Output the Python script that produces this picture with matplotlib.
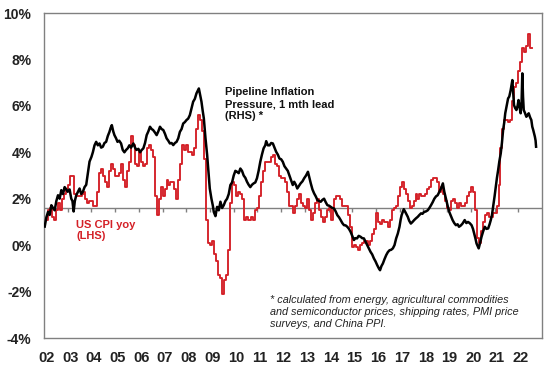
import matplotlib
matplotlib.use("Agg")
import matplotlib.pyplot as plt
import numpy as np

plt.rcParams['font.family'] = ['Liberation Sans', 'DejaVu Sans']

# US CPI yoy, monthly, Jan 2002 - Jul 2022 (LHS)
cpi_start = 2002
cpi_yoy = [
    1.1, 1.1, 1.5, 1.6, 1.2, 1.1, 1.5, 1.8, 1.5, 2.0, 2.2, 2.4,
    2.6, 3.0, 3.0, 2.2, 2.1, 2.1, 2.1, 2.2, 2.3, 2.0, 1.8, 1.9,
    1.9, 1.7, 1.7, 2.3, 3.1, 3.3, 3.0, 2.7, 2.5, 3.2, 3.5, 3.3,
    3.0, 3.0, 3.1, 3.5, 2.8, 2.5, 3.2, 3.6, 4.7, 4.3, 3.5, 3.4,
    4.0, 3.6, 3.4, 3.5, 4.2, 4.3, 4.1, 3.8, 2.1, 1.3, 2.0, 2.5,
    2.1, 2.4, 2.8, 2.6, 2.7, 2.7, 2.4, 2.0, 2.8, 3.5, 4.3, 4.1,
    4.3, 4.0, 4.0, 3.9, 4.2, 5.0, 5.6, 5.4, 4.9, 3.7, 1.1, 0.1,
    0.0, 0.2, -0.4, -0.7, -1.3, -1.4, -2.1, -1.5, -1.3, -0.2, 1.8, 2.7,
    2.6, 2.1, 2.3, 2.2, 2.0, 1.1, 1.2, 1.1, 1.1, 1.2, 1.1, 1.5,
    1.6, 2.1, 2.7, 3.2, 3.6, 3.6, 3.6, 3.8, 3.9, 3.5, 3.4, 3.0,
    2.9, 2.9, 2.7, 2.3, 1.7, 1.7, 1.4, 1.7, 2.0, 2.2, 1.8, 1.7,
    1.6, 2.0, 1.5, 1.1, 1.4, 1.8, 2.0, 1.5, 1.2, 1.0, 1.2, 1.5,
    1.6, 1.1, 1.5, 2.0, 2.1, 2.1, 2.0, 1.7, 1.7, 1.7, 1.3, 0.8,
    -0.1, 0.0, -0.1, -0.2, 0.0, 0.1, 0.2, 0.2, 0.0, 0.2, 0.5, 0.7,
    1.4, 1.0, 0.9, 1.1, 1.0, 1.0, 0.8, 1.1, 1.5, 1.6, 1.7, 2.1,
    2.5, 2.7, 2.4, 2.2, 1.9, 1.6, 1.7, 1.9, 2.2, 2.0, 2.2, 2.1,
    2.1, 2.2, 2.4, 2.5, 2.8, 2.9, 2.9, 2.7, 2.3, 2.5, 2.2, 1.9,
    1.6, 1.5, 1.9, 2.0, 1.8, 1.6, 1.8, 1.7, 1.7, 1.8, 2.1, 2.3,
    2.5, 2.3, 1.5, 0.3, 0.1, 0.6, 1.0, 1.3, 1.4, 1.2, 1.2, 1.4,
    1.4, 1.7, 2.6, 4.2, 5.0, 5.4, 5.4, 5.3, 5.4, 6.2, 6.8, 7.0,
    7.5, 7.9, 8.5, 8.3, 8.6, 9.1, 8.5,
]

# Pipeline inflation pressure, 1 mth lead (RHS)
pipe_t = [
    2002.03, 2002.10, 2002.17, 2002.24, 2002.31, 2002.38, 2002.45, 2002.52, 2002.59, 2002.66,
    2002.73, 2002.80, 2002.87, 2002.94, 2003.00, 2003.08, 2003.15, 2003.20, 2003.25, 2003.30,
    2003.36, 2003.43, 2003.50, 2003.57, 2003.64, 2003.71, 2003.78, 2003.85, 2003.92, 2004.00,
    2004.06, 2004.13, 2004.20, 2004.27, 2004.34, 2004.41, 2004.48, 2004.55, 2004.62, 2004.69,
    2004.76, 2004.81, 2004.86, 2004.92, 2004.97, 2005.04, 2005.10, 2005.17, 2005.25, 2005.32,
    2005.39, 2005.46, 2005.53, 2005.60, 2005.67, 2005.77, 2005.84, 2005.90, 2005.98, 2006.05,
    2006.12, 2006.19, 2006.26, 2006.33, 2006.40, 2006.47, 2006.54, 2006.60, 2006.68, 2006.75,
    2006.82, 2006.89, 2006.96, 2007.03, 2007.10, 2007.17, 2007.24, 2007.31, 2007.38, 2007.45,
    2007.52, 2007.59, 2007.66, 2007.73, 2007.80, 2007.87, 2007.94, 2008.01, 2008.08, 2008.15,
    2008.22, 2008.29, 2008.36, 2008.43, 2008.53, 2008.58, 2008.64, 2008.69, 2008.74, 2008.81,
    2008.88, 2008.94, 2008.99, 2009.06, 2009.12, 2009.16, 2009.23, 2009.30, 2009.37, 2009.44,
    2009.51, 2009.58, 2009.65, 2009.72, 2009.79, 2009.86, 2009.93, 2010.00, 2010.07, 2010.14,
    2010.21, 2010.28, 2010.35, 2010.42, 2010.49, 2010.56, 2010.63, 2010.70, 2010.77, 2010.84,
    2010.91, 2010.98, 2011.05, 2011.12, 2011.19, 2011.26, 2011.33, 2011.37, 2011.44, 2011.51,
    2011.58, 2011.65, 2011.72, 2011.79, 2011.86, 2011.93, 2012.00, 2012.07, 2012.14, 2012.21,
    2012.28, 2012.35, 2012.42, 2012.49, 2012.55, 2012.62, 2012.68, 2012.75, 2012.82, 2012.90,
    2012.97, 2013.05, 2013.13, 2013.19, 2013.25, 2013.32, 2013.39, 2013.46, 2013.53, 2013.60,
    2013.67, 2013.74, 2013.81, 2013.88, 2013.95, 2014.02, 2014.09, 2014.16, 2014.23, 2014.30,
    2014.37, 2014.44, 2014.51, 2014.58, 2014.65, 2014.72, 2014.79, 2014.86, 2014.93, 2015.00,
    2015.07, 2015.13, 2015.20, 2015.27, 2015.35, 2015.42, 2015.49, 2015.56, 2015.63, 2015.70,
    2015.77, 2015.84, 2015.91, 2015.98, 2016.05, 2016.12, 2016.17, 2016.23, 2016.29, 2016.36,
    2016.43, 2016.50, 2016.57, 2016.64, 2016.71, 2016.78, 2016.85, 2016.92, 2016.99, 2017.04,
    2017.08, 2017.17, 2017.25, 2017.34, 2017.40, 2017.47, 2017.54, 2017.61, 2017.68, 2017.76,
    2017.83, 2017.90, 2017.96, 2018.03, 2018.10, 2018.18, 2018.25, 2018.32, 2018.39, 2018.46,
    2018.53, 2018.60, 2018.67, 2018.74, 2018.82, 2018.88, 2018.95, 2019.02, 2019.09, 2019.16,
    2019.23, 2019.30, 2019.37, 2019.44, 2019.50, 2019.58, 2019.65, 2019.74, 2019.81, 2019.88,
    2019.95, 2020.03, 2020.09, 2020.14, 2020.19, 2020.24, 2020.33, 2020.39, 2020.45, 2020.52,
    2020.59, 2020.66, 2020.73, 2020.79, 2020.84, 2020.89, 2020.94, 2021.00, 2021.05, 2021.10,
    2021.15, 2021.20, 2021.26, 2021.31, 2021.36, 2021.41, 2021.45, 2021.51, 2021.57, 2021.62,
    2021.68, 2021.75, 2021.79, 2021.82, 2021.87, 2021.92, 2021.97, 2022.01, 2022.06, 2022.10,
    2022.14, 2022.17, 2022.20, 2022.23, 2022.28, 2022.34, 2022.39, 2022.44, 2022.50, 2022.55,
    2022.59, 2022.63, 2022.67, 2022.70, 2022.73, 2022.75,
]
pipe_val = [
    0.80, 1.20, 1.43, 1.30, 1.72, 1.60, 1.50, 1.90, 2.15, 2.00,
    2.37, 2.20, 2.50, 2.40, 2.30, 2.40, 2.00, 1.90, 1.45, 1.90,
    2.15, 2.30, 2.44, 2.20, 2.30, 2.50, 2.60, 3.10, 3.60, 3.80,
    4.00, 4.30, 4.45, 4.30, 4.38, 4.20, 4.24, 4.40, 4.45, 4.70,
    4.88, 5.05, 5.17, 4.90, 4.74, 4.60, 4.45, 4.50, 4.38, 4.10,
    4.00, 4.10, 4.17, 4.30, 4.20, 4.38, 4.20, 4.10, 4.15, 4.00,
    4.10, 4.17, 4.40, 4.74, 4.90, 5.10, 5.00, 4.96, 4.85, 4.74,
    4.90, 5.10, 5.00, 4.96, 4.80, 4.60, 4.50, 4.38, 4.40, 4.31,
    4.40, 4.45, 4.60, 4.88, 5.00, 5.24, 5.30, 5.39, 5.45, 5.60,
    5.90, 6.18, 6.30, 6.54, 6.75, 6.50, 6.18, 5.80, 5.46, 4.60,
    3.88, 3.10, 2.44, 2.00, 1.70, 1.43, 1.25, 1.65, 1.50, 1.87,
    1.60, 1.72, 1.90, 2.00, 2.20, 2.59, 2.70, 3.00, 3.20, 3.16,
    3.10, 3.30, 3.20, 3.00, 2.90, 2.73, 2.60, 2.50, 2.60, 2.66,
    2.70, 2.88, 3.20, 3.59, 3.90, 4.17, 4.30, 4.48, 4.30, 4.30,
    4.40, 4.38, 4.20, 4.02, 3.90, 3.73, 3.70, 3.59, 3.40, 3.30,
    3.20, 3.00, 2.80, 2.59, 2.73, 2.60, 2.44, 2.55, 2.66, 2.75,
    2.88, 3.00, 3.16, 2.90, 2.66, 2.40, 2.23, 2.10, 1.94, 1.90,
    1.87, 1.95, 2.00, 1.85, 1.72, 1.70, 1.65, 1.60, 1.58, 1.45,
    1.29, 1.20, 1.08, 0.95, 0.86, 0.85, 0.79, 0.70, 0.57, 0.40,
    0.22, 0.30, 0.29, 0.40, 0.36, 0.30, 0.29, 0.15, 0.00, -0.15,
    -0.29, -0.40, -0.57, -0.70, -0.86, -1.00, -1.08, -0.90, -0.79, -0.60,
    -0.43, -0.30, -0.22, -0.20, -0.14, 0.00, 0.29, 0.50, 0.79, 1.10,
    1.29, 1.55, 1.40, 1.22, 1.05, 0.93, 1.00, 1.08, 1.15, 1.22,
    1.30, 1.37, 1.35, 1.43, 1.45, 1.50, 1.60, 1.72, 1.85, 2.00,
    2.10, 2.15, 2.30, 2.44, 2.66, 2.30, 2.00, 1.70, 1.43, 1.25,
    1.08, 0.95, 0.86, 0.90, 0.79, 0.85, 0.93, 1.08, 0.95, 1.00,
    0.95, 0.86, 0.70, 0.50, 0.30, 0.07, -0.14, 0.10, 0.36, 0.60,
    0.79, 0.70, 0.72, 0.90, 1.08, 1.30, 1.65, 2.10, 2.51, 2.90,
    3.23, 3.60, 3.95, 4.40, 4.96, 5.30, 5.68, 6.00, 6.32, 6.40,
    6.68, 7.11, 6.50, 6.03, 5.90, 5.82, 6.00, 6.25, 5.90, 5.68,
    6.20, 7.40, 6.40, 5.82, 5.70, 5.53, 5.60, 5.68, 5.50, 5.39,
    5.10, 4.96, 4.80, 4.67, 4.50, 4.24,
]

year_labels = [f"{y % 100:02d}" for y in range(2002, 2023)]
y_ticks = [-4, -2, 0, 2, 4, 6, 8, 10]
axis_cross = 1.6

RED = "#d42027"
GRID_GREY = "#808080"

fig = plt.figure(figsize=(5.48, 3.66), dpi=100)
ax = fig.add_axes([44 / 548, 1 - 338 / 366, 498 / 548, 325 / 366])

# monthly CPI as steps
cpi_t = cpi_start + np.arange(len(cpi_yoy) + 1) / 12.0
cpi_v = np.append(cpi_yoy, cpi_yoy[-1])

ax.axhline(axis_cross, color=GRID_GREY, lw=1.0, zorder=1)
tick_years = np.arange(2003, 2023)
ax.vlines(tick_years, axis_cross - 0.18, axis_cross, color=GRID_GREY, lw=1.0, zorder=1)

ax.plot(pipe_t, pipe_val, color="black", lw=1.8, zorder=3)
ax.step(cpi_t, cpi_v, where="post", color=RED, lw=1.35, zorder=2)

ax.set_xlim(2002, 2023)
ax.set_ylim(-4, 10)
ax.set_yticks(y_ticks)
ax.set_yticklabels([f"{v}%" for v in y_ticks], fontsize=10, fontweight="bold", color="#222222")
ax.set_xticks(np.arange(2002, 2023) + 0.1)
ax.set_xticklabels(year_labels, fontsize=10.5, fontweight="bold", color="#222222")
ax.tick_params(axis="both", length=0)
ax.tick_params(axis="y", pad=9)
ax.tick_params(axis="x", pad=9)

for side in ["left", "right", "top", "bottom"]:
    ax.spines[side].set_color(GRID_GREY)
    ax.spines[side].set_linewidth(1.0)

ax.text(2009.65, 6.8, "Pipeline Inflation\nPressure, 1 mth lead\n(RHS) *",
        fontsize=8, fontweight="bold", color="#111111", va="top", ha="left",
        linespacing=1.25)
ax.text(2003.35, 1.1, "US CPI yoy\n(LHS)", fontsize=8, fontweight="bold",
        color=RED, va="top", ha="left", linespacing=1.2)
ax.text(2011.54, -2.15,
        "* calculated from energy, agricultural commodities\n"
        "and semiconductor prices, shipping rates, PMI price\n"
        "surveys, and China PPI.",
        fontsize=7.8, fontstyle="italic", color="#222222", va="top", ha="left",
        linespacing=1.22)

fig.savefig("out.png", dpi=100, facecolor="white")
